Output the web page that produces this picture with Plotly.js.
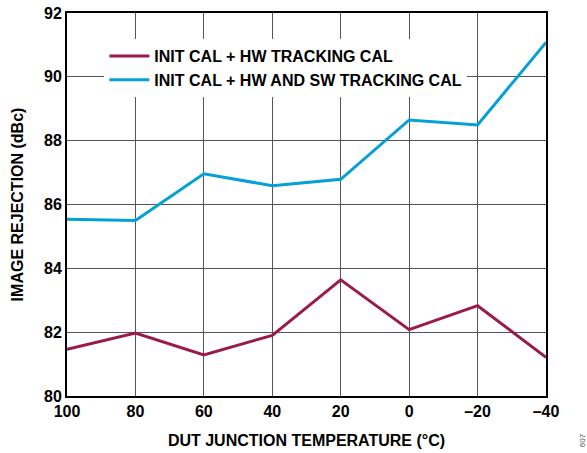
<!DOCTYPE html>
<html>
<head>
<meta charset="utf-8">
<script src="https://cdn.plot.ly/plotly-3.0.1.min.js"></script>
<style>html,body{margin:0;padding:0;background:#fff;}#chart{width:587px;height:453px;}</style>
</head>
<body>
<div id="chart"></div>
<script>
const temperatures = [100, 80, 60, 40, 20, 0, -20, -40];
const hwTrackingCal = [81.46, 81.97, 81.29, 81.9, 83.64, 82.08, 82.83, 81.21];
const hwSwTrackingCal = [85.54, 85.5, 86.96, 86.59, 86.79, 88.65, 88.49, 91.08];
const xTickVals = [100, 80, 60, 40, 20, 0, -20, -40];
const xTickText = ['100', '80', '60', '40', '20', '0', '–20', '–40'];
const yTickVals = [80, 82, 84, 86, 88, 90, 92];
const seriesNames = ['INIT CAL + HW TRACKING CAL', 'INIT CAL + HW AND SW TRACKING CAL'];

const FONT = 'Liberation Sans, Arial, Helvetica, sans-serif';
const traces = [
  {x: temperatures, y: hwTrackingCal, name: seriesNames[0], mode: 'lines',
   line: {color: '#9B1B48', width: 3}},
  {x: temperatures, y: hwSwTrackingCal, name: seriesNames[1], mode: 'lines',
   line: {color: '#05A0D8', width: 3}}
];
const layout = {
  width: 587, height: 453,
  margin: {l: 67, r: 41, t: 13, b: 57},
  paper_bgcolor: '#fff', plot_bgcolor: '#fff',
  font: {family: FONT, size: 16, color: '#000', weight: 'bold'},
  showlegend: true,
  legend: {x: 0.078, y: 0.932, xanchor: 'left', yanchor: 'top', bgcolor: '#fff',
    borderwidth: 0, font: {family: FONT, size: 16, color: '#000', weight: 'bold'},
    itemwidth: 40, tracegroupgap: 0},
  xaxis: {range: [100, -40], tickvals: xTickVals, ticktext: xTickText,
    showgrid: true, gridcolor: '#555', gridwidth: 1, zeroline: false,
    showline: true, mirror: true, linecolor: '#000', linewidth: 2, ticks: '',
    tickfont: {family: FONT, size: 16, weight: 'bold'},
    title: {text: 'DUT JUNCTION TEMPERATURE (°C)', font: {family: FONT, size: 16, weight: 'bold'}, standoff: 16}},
  yaxis: {range: [80, 92], tickvals: yTickVals,
    showgrid: true, gridcolor: '#555', gridwidth: 1, zeroline: false,
    showline: true, mirror: true, linecolor: '#000', linewidth: 2, ticks: '',
    tickfont: {family: FONT, size: 16, weight: 'bold'},
    title: {text: 'IMAGE REJECTION (dBc)', font: {family: FONT, size: 16, weight: 'bold'}, standoff: 16}},
  annotations: [{text: '607', xref: 'paper', yref: 'paper', x: 1.09, y: -0.14,
    showarrow: false, textangle: -90, font: {family: FONT, size: 8, color: '#555', weight: 'normal'}}]
};
Plotly.newPlot('chart', traces, layout, {displayModeBar: false, staticPlot: true});
</script>
</body>
</html>
